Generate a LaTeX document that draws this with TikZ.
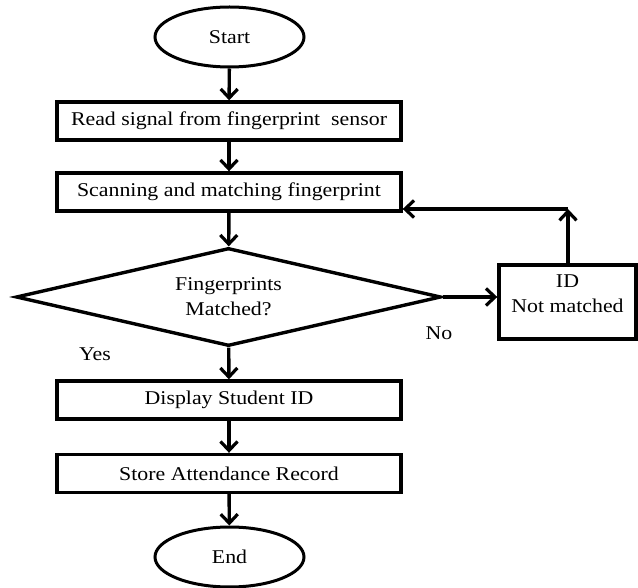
\documentclass[tikz,border=0pt]{standalone}
\usepackage{fontspec}
\setmainfont{Liberation Serif}[FakeStretch=1.12]
\usetikzlibrary{arrows.meta,shapes.geometric}
\begin{document}
\begin{tikzpicture}[x=1pt,y=-1pt,
  line width=3.4pt,
  txt/.style={font=\fontsize{19.5}{25}\selectfont},
  box/.style={draw, rectangle, minimum width=344pt, minimum height=38pt, inner sep=0pt, txt},
  term/.style={draw, ellipse, minimum width=149pt, minimum height=60pt, inner sep=0pt, line width=3pt, txt},
  dec/.style={draw, diamond, aspect=4.4, minimum width=425pt, minimum height=98pt, inner sep=0pt, align=center, txt},
  side/.style={draw, rectangle, minimum width=137pt, minimum height=74pt, inner sep=0pt, align=center, txt},
  lbl/.style={txt, inner sep=0pt},
  arr/.style={-{Straight Barb[length=9pt,width=17pt,line width=3.2pt]}},
]
\useasboundingbox (0,0) rectangle (638,588);
\node[term] (start) at (229.5,37) {Start};
\node[box] (read) at (229,121) {Read signal from fingerprint\ \ sensor};
\node[box] (scan) at (229,192) {Scanning and matching fingerprint};
\node[dec] (match) at (228.5,297) {Fingerprints\\Matched?};
\node[side] (idb) at (567.5,302) {ID\\Not matched\rule[-16pt]{0pt}{16pt}};
\node[box] (disp) at (229,400) {Display Student ID};
\node[box] (store) at (229,473.5) {Store Attendance Record};
\node[term] (end) at (229.5,557) {End};
\node[lbl] (no) at (439,333) {No};
\node[lbl] (yes) at (95,354) {Yes};
\coordinate (fb) at (568,209);

\draw[arr] (start) -- (read);
\draw[arr] (read) -- (scan);
\draw[arr] (scan) -- (match);
\draw[arr] (match) -- (disp);
\draw[arr] (disp) -- (store);
\draw[arr] (store) -- (end);
\draw[arr] (match.east) -- (idb.west |- match.east);
\draw[arr] (idb.north -| fb) -- (fb);
\draw[arr] (fb) -- (scan.east |- fb);
\end{tikzpicture}
\end{document}
